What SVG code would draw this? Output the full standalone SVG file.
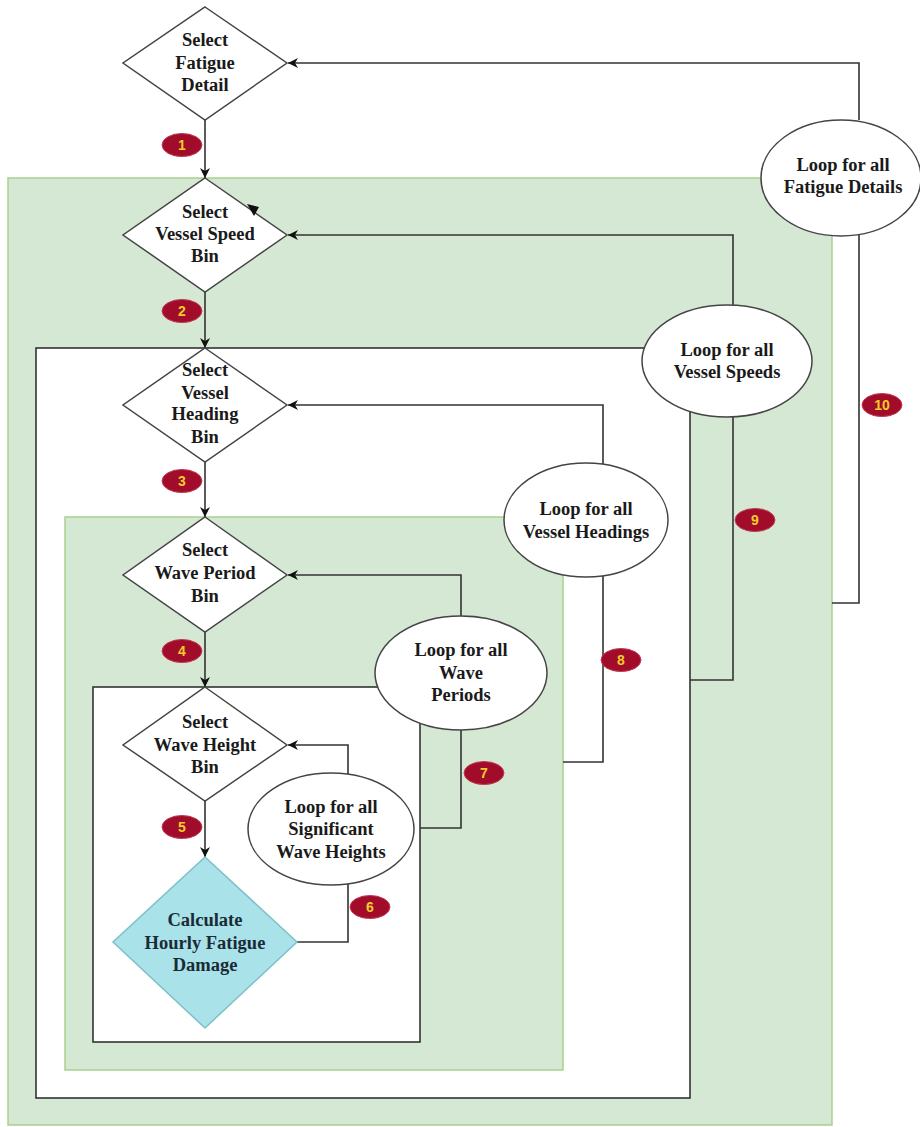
<svg xmlns="http://www.w3.org/2000/svg" width="920" height="1127" viewBox="0 0 920 1127">
<defs>
<marker id="arr" viewBox="0 0 10 10" refX="10" refY="5" markerWidth="10" markerHeight="10" markerUnits="userSpaceOnUse" orient="auto">
<path d="M0,0 L10,5 L0,10 L3,5 Z" fill="#111"/>
</marker>
<style>
.gbox{fill:#d5e8d4;stroke:#a9d18e;stroke-width:1.5}
.wbox{fill:#fff;stroke:#333;stroke-width:1.6}
.dia{fill:#fff;stroke:#444;stroke-width:1.5}
.calc{fill:#a9e2e8;stroke:#7cc0c8;stroke-width:1.5}
.ell{fill:#fff;stroke:#444;stroke-width:1.5}
.ln{fill:none;stroke:#333;stroke-width:1.6}
.t{font-family:"Liberation Serif","Times New Roman",serif;font-weight:bold;font-size:18.5px;fill:#1a1a1a;text-anchor:middle}
.ct{fill:#1b2b36}
.bd{fill:#a00c2a;stroke:#c43a52;stroke-width:1}
.bt{font-family:"Liberation Sans",Arial,sans-serif;font-weight:bold;font-size:14px;fill:#f3cc2a;text-anchor:middle}
</style>
</defs>
<rect width="920" height="1127" fill="#fff"/>
<g id="containers">
<rect class="gbox" x="8" y="178" width="824" height="947"/>
<rect class="wbox" x="36" y="348" width="654" height="750"/>
<rect class="gbox" x="65" y="517" width="498" height="553"/>
<rect class="wbox" x="93" y="687" width="327" height="355"/>
</g>
<g id="connectors">
<line class="ln" x1="205" y1="120" x2="205" y2="178" marker-end="url(#arr)"/>
<line class="ln" x1="205" y1="292" x2="205" y2="348" marker-end="url(#arr)"/>
<line class="ln" x1="205" y1="462" x2="205" y2="517" marker-end="url(#arr)"/>
<line class="ln" x1="205" y1="632" x2="205" y2="687" marker-end="url(#arr)"/>
<line class="ln" x1="205" y1="801" x2="205" y2="857" marker-end="url(#arr)"/>
<path class="ln" d="M859,120 V63 H288" marker-end="url(#arr)"/>
<path class="ln" d="M859,235 V603 H832"/>
<path class="ln" d="M733,305 V235 H288" marker-end="url(#arr)"/>
<path class="ln" d="M733,417 V680 H690"/>
<path class="ln" d="M603,464 V405 H288" marker-end="url(#arr)"/>
<path class="ln" d="M603,576 V762 H563"/>
<path class="ln" d="M461,617 V575 H288" marker-end="url(#arr)"/>
<path class="ln" d="M461,729 V828 H420"/>
<path class="ln" d="M348,774 V745 H288" marker-end="url(#arr)"/>
<path class="ln" d="M348,884 V942 H297"/>
</g>
<g id="n1">
<polygon class="dia" points="205,7 287,63 205,120 123,63"/>
<text class="t"><tspan x="205" y="46">Select</tspan><tspan x="205" y="69">Fatigue</tspan><tspan x="205" y="91">Detail</tspan></text>
</g>
<g id="n2">
<polygon class="dia" points="205,178 287,235 205,292 123,235"/>
<polygon points="247,204 259,207 254,216" fill="#111"/>
<text class="t"><tspan x="205" y="218">Select</tspan><tspan x="205" y="240">Vessel Speed</tspan><tspan x="205" y="262">Bin</tspan></text>
</g>
<g id="n3">
<polygon class="dia" points="205,348 287,405 205,462 123,405"/>
<text class="t"><tspan x="205" y="376">Select</tspan><tspan x="205" y="399">Vessel</tspan><tspan x="205" y="420">Heading</tspan><tspan x="205" y="443">Bin</tspan></text>
</g>
<g id="n4">
<polygon class="dia" points="205,517 287,575 205,632 123,575"/>
<text class="t"><tspan x="205" y="556">Select</tspan><tspan x="205" y="579">Wave Period</tspan><tspan x="205" y="602">Bin</tspan></text>
</g>
<g id="n5">
<polygon class="dia" points="205,687 287,745 205,801 123,745"/>
<text class="t"><tspan x="205" y="728">Select</tspan><tspan x="205" y="751">Wave Height</tspan><tspan x="205" y="773">Bin</tspan></text>
</g>
<g id="n6">
<polygon class="calc" points="205,857 297,942 205,1028 113,942"/>
<text class="t ct"><tspan x="205" y="926">Calculate</tspan><tspan x="205" y="949">Hourly Fatigue</tspan><tspan x="205" y="971">Damage</tspan></text>
</g>
<g id="loop10">
<ellipse class="ell" cx="841" cy="178" rx="80" ry="58"/>
<text class="t"><tspan x="843" y="171">Loop for all</tspan><tspan x="843" y="193">Fatigue Details</tspan></text>
</g>
<g id="loop9">
<ellipse class="ell" cx="727" cy="361" rx="85" ry="56"/>
<text class="t"><tspan x="727" y="356">Loop for all</tspan><tspan x="727" y="378">Vessel Speeds</tspan></text>
</g>
<g id="loop8">
<ellipse class="ell" cx="586" cy="520" rx="82" ry="57"/>
<text class="t"><tspan x="586" y="515">Loop for all</tspan><tspan x="586" y="538">Vessel Headings</tspan></text>
</g>
<g id="loop7">
<ellipse class="ell" cx="461" cy="673" rx="86" ry="57"/>
<text class="t"><tspan x="461" y="656">Loop for all</tspan><tspan x="461" y="679">Wave</tspan><tspan x="461" y="701">Periods</tspan></text>
</g>
<g id="loop6">
<ellipse class="ell" cx="331" cy="829" rx="83" ry="56"/>
<text class="t"><tspan x="331" y="813">Loop for all</tspan><tspan x="331" y="835">Significant</tspan><tspan x="331" y="858">Wave Heights</tspan></text>
</g>
<g id="badges">
<ellipse class="bd" cx="182" cy="145" rx="20" ry="11.5"/><text class="bt" x="182" y="150">1</text>
<ellipse class="bd" cx="182" cy="311" rx="20" ry="11.5"/><text class="bt" x="182" y="316">2</text>
<ellipse class="bd" cx="182" cy="481" rx="20" ry="11.5"/><text class="bt" x="182" y="486">3</text>
<ellipse class="bd" cx="182" cy="651" rx="20" ry="11.5"/><text class="bt" x="182" y="656">4</text>
<ellipse class="bd" cx="182" cy="827" rx="20" ry="11.5"/><text class="bt" x="182" y="832">5</text>
<ellipse class="bd" cx="370" cy="907" rx="20" ry="11.5"/><text class="bt" x="370" y="912">6</text>
<ellipse class="bd" cx="484" cy="773" rx="20" ry="11.5"/><text class="bt" x="484" y="778">7</text>
<ellipse class="bd" cx="621" cy="660" rx="20" ry="11.5"/><text class="bt" x="621" y="665">8</text>
<ellipse class="bd" cx="755" cy="520" rx="20" ry="11.5"/><text class="bt" x="755" y="525">9</text>
<ellipse class="bd" cx="882" cy="405" rx="20" ry="11.5"/><text class="bt" x="882" y="410">10</text>
</g>
</svg>
